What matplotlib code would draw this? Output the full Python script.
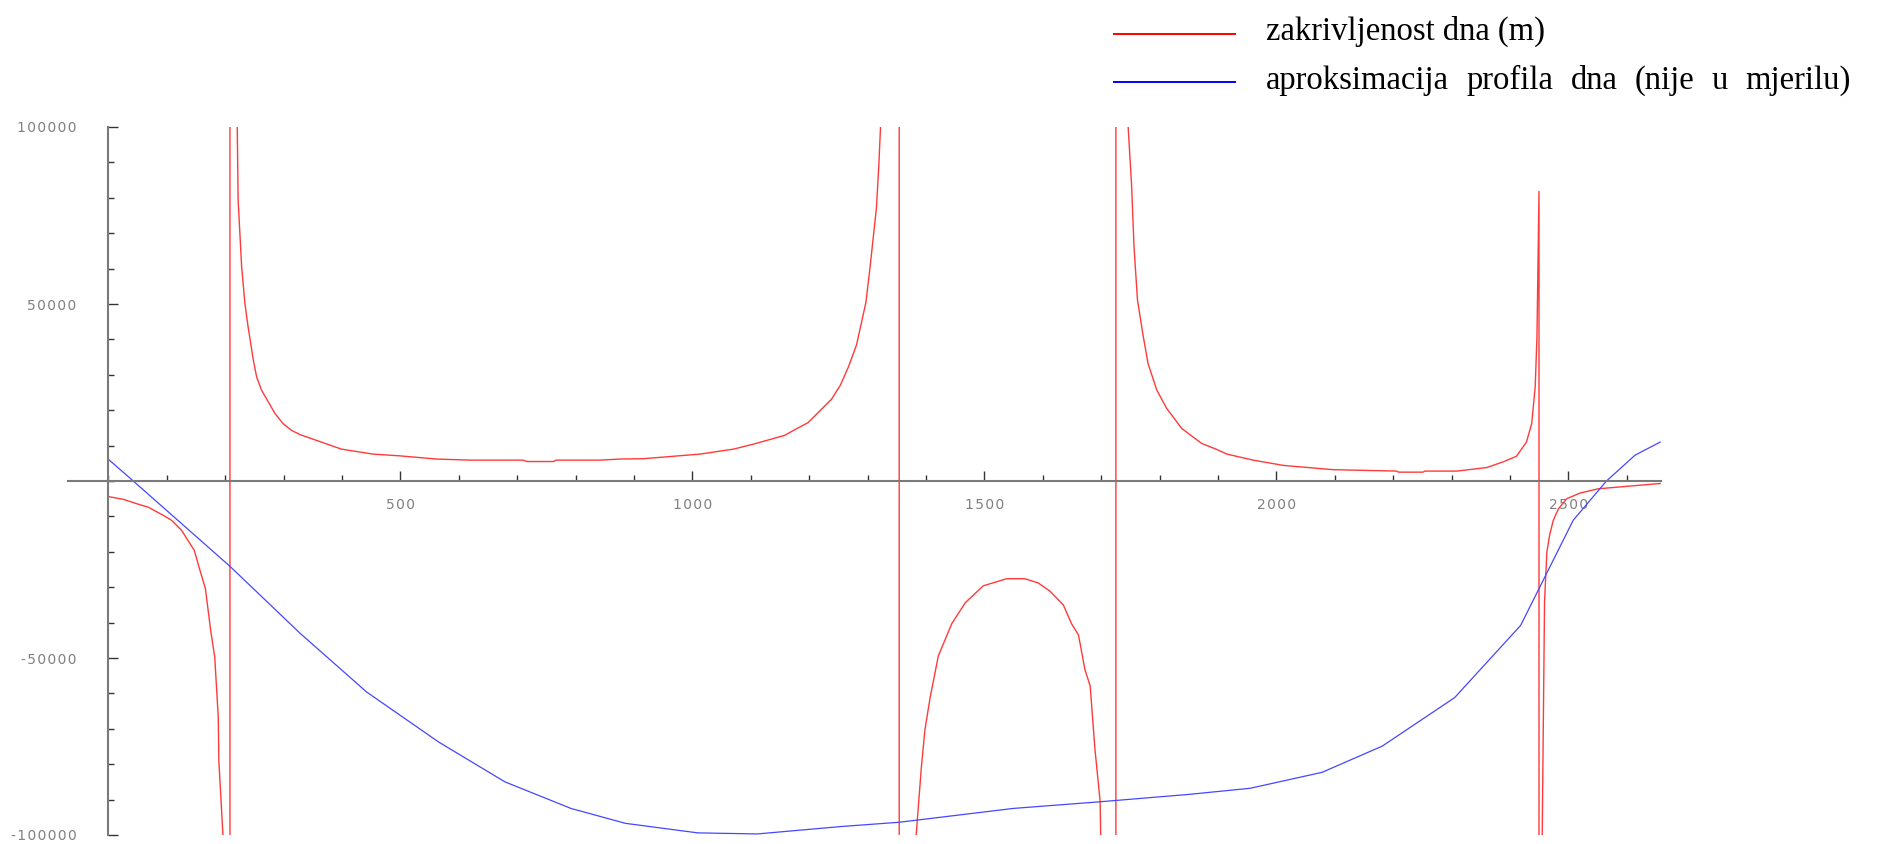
import matplotlib
matplotlib.use("Agg")
import matplotlib.pyplot as plt
from matplotlib.ticker import FixedLocator, MultipleLocator, FuncFormatter
from matplotlib.lines import Line2D

# ---------------- data ----------------
# curvature of the bottom (red) – branches between poles
seg1_x = [0, 26, 48, 68, 94, 108, 125, 147, 155, 166, 175, 182, 188, 189, 196, 203, 208]
seg1_y = [-4400, -5200, -6400, -7400, -9700, -11100, -13900, -19600, -24300, -30400,
          -42200, -49800, -66800, -79000, -100000, -200000, -5e6]

seg2_x = [208, 216, 220.5, 222, 228, 233.6, 239, 248, 253.7, 262, 273.6, 285, 299, 313.6, 328,
          399, 453, 499, 562, 619, 710, 716, 762, 767, 842, 876, 916, 1013, 1070, 1104,
          1158, 1173, 1198, 1218, 1238, 1253, 1267, 1281, 1297, 1304, 1315, 1319, 1322, 1335, 1354]
seg2_y = [5e6, 200000, 100000, 79400, 60600, 50200, 43600, 34200, 29400, 25700, 22400, 19100,
          16200, 14300, 13100, 9000, 7600, 7100, 6200, 5900, 5900, 5500, 5500, 5900, 5900, 6200,
          6300, 7600, 9000, 10400, 12900, 14300, 16500, 19800, 23100, 27000, 32200, 38500, 50500,
          60300, 77200, 89000, 100000, 200000, 5e6]

seg3_x = [1354, 1377, 1383, 1392, 1398, 1407, 1421, 1444, 1467, 1498, 1538, 1569, 1592, 1612,
          1635, 1649, 1661, 1672, 1681, 1689, 1698, 1699, 1708, 1725]
seg3_y = [-5e6, -200000, -100000, -80700, -70300, -61100, -49400, -40300, -34400, -29600,
          -27600, -27600, -28800, -31100, -35000, -40300, -43500, -53300, -57900, -75500,
          -90500, -100000, -200000, -5e6]

seg4_x = [1725, 1740, 1746, 1752, 1756, 1762, 1771, 1780, 1795, 1812, 1838, 1872, 1898, 1915,
          1960, 2012, 2097, 2206, 2209, 2251, 2254, 2309, 2360, 2388, 2411, 2428, 2437, 2443,
          2446, 2448, 2449.5]
seg4_y = [5e6, 200000, 100000, 83200, 66200, 51100, 41700, 33200, 25700, 20500, 14800, 10600,
          8900, 7600, 5900, 4400, 3200, 2800, 2500, 2500, 2800, 2800, 3800, 5400, 7000, 11000,
          16200, 26600, 40700, 64300, 81800]

seg5_x = [2449.6, 2452.5, 2455, 2457, 2459, 2463, 2468, 2474, 2483, 2497, 2520, 2551, 2600, 2657]
seg5_y = [-5e6, -300000, -100000, -68000, -34000, -20000, -15000, -11100, -7800, -5000,
          -3400, -2200, -1500, -700]

# approximation of the bottom profile (blue, not to scale)
blue_x = [0, 42.5, 208, 328, 442, 566, 679, 792, 885, 1009, 1111, 1255, 1354, 1549, 1699,
          1852, 1955, 2078, 2181, 2305, 2418, 2508, 2565, 2614, 2657]
blue_y = [6100, 0, -24100, -43000, -59600, -73800, -85000, -92500, -96700, -99400, -99700,
          -97600, -96400, -92500, -90600, -88500, -86800, -82300, -74900, -61200, -40800,
          -11100, 0, 7300, 11000]

x_major = [500, 1000, 1500, 2000, 2500]
y_major = [-100000, -50000, 50000, 100000]

label_red = "zakrivljenost dna (m)"
label_blue = "aproksimacija profila dna (nije u mjerilu)"

# ---------------- figure ----------------
W, H = 1885, 844
fig = plt.figure(figsize=(W / 100, H / 100), dpi=100)
fig.patch.set_facecolor("white")

ax_l, ax_r, ax_t, ax_b = 68, 1661, 127, 835
ax = fig.add_axes([ax_l / W, 1 - ax_b / H, (ax_r - ax_l) / W, (ax_b - ax_t) / H])
ax.set_xlim(-69.3, 2658.4)
ax.set_ylim(-100000, 100000)

red_x = seg1_x + seg2_x + seg3_x + seg4_x + seg5_x
red_y = seg1_y + seg2_y + seg3_y + seg4_y + seg5_y
ax.plot(red_x, red_y, color="#ff3a3a", lw=1.0, solid_joinstyle="round")
ax.plot(blue_x, blue_y, color="#4646ff", lw=0.9)

for s in ("top", "right"):
    ax.spines[s].set_visible(False)
ax.spines["left"].set_position(("data", 0))
ax.spines["bottom"].set_position(("data", 0))
for s in ("left", "bottom"):
    ax.spines[s].set_color("#7a7a7a")
    ax.spines[s].set_linewidth(1.5)

ax.xaxis.set_major_locator(FixedLocator(x_major))
ax.xaxis.set_minor_locator(MultipleLocator(100))
ax.yaxis.set_major_locator(FixedLocator(y_major))
ax.yaxis.set_minor_locator(MultipleLocator(10000))

def fmt(v, pos):
    s = f"{int(round(v))}"
    return "\u200a".join(s)

ax.xaxis.set_major_formatter(FuncFormatter(fmt))
ax.yaxis.set_major_formatter(FuncFormatter(fmt))

ax.tick_params(axis="both", which="both", direction="in", color="#333333", width=1.0,
               labelcolor="#808080", labelsize=10)
ax.tick_params(axis="both", which="major", length=7)
ax.tick_params(axis="both", which="minor", length=4)
ax.tick_params(axis="x", which="major", pad=12)
ax.tick_params(axis="y", which="major", pad=23)
for lab in ax.get_xticklabels() + ax.get_yticklabels():
    lab.set_family("DejaVu Sans")

# ---------------- legend ----------------
def fx(px):
    return px / W

def fy(py):
    return 1 - py / H

fig.add_artist(Line2D([fx(1114), fx(1235)], [fy(34), fy(34)], color="#ff0000", lw=1.4,
                      transform=fig.transFigure))
fig.add_artist(Line2D([fx(1114), fx(1235)], [fy(82), fy(82)], color="#0000ff", lw=1.4,
                      transform=fig.transFigure))

serif = "Liberation Serif"
fsz = 23.5
fig.text(fx(1266), fy(40), label_red, family=serif, fontsize=fsz, va="baseline", ha="left")

# justified second legend line
words = label_blue.split(" ")
renderer = fig.canvas.get_renderer()
objs = [fig.text(0, fy(89), w, family=serif, fontsize=fsz, va="baseline", ha="left") for w in words]
widths = [o.get_window_extent(renderer).width for o in objs]
start, end = 1266, 1851
gap = (end - start - sum(widths)) / (len(words) - 1)
xpos = start
for o, wdt in zip(objs, widths):
    o.set_x(fx(xpos))
    xpos += wdt + gap

fig.savefig("out.png", dpi=100, facecolor="white")
